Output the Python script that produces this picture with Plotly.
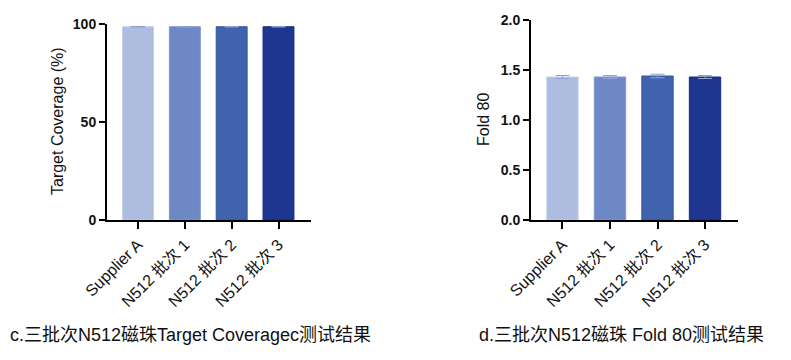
import plotly.graph_objects as go

categories = ["Supplier A", "N512 批次 1", "N512 批次 2", "N512 批次 3"]
coverage_values = [98.6, 98.6, 98.6, 98.6]
coverage_errors = [0.15, 0.15, 0.15, 0.15]
fold80_values = [1.43, 1.43, 1.44, 1.43]
fold80_errors = [0.015, 0.015, 0.018, 0.015]
bar_colors = ["#AEBCE0", "#6E88C6", "#4162AC", "#1E3690"]
line_colors = ["#C3CEEA", "#7D95CE", "#3556A6", "#142C88"]
caption_left = "c.三批次N512磁珠Target Coveragec测试结果"
caption_right = "d.三批次N512磁珠 Fold 80测试结果"

W, H = 791, 360
OFF = 8  # page body margin offset
pos = list(range(len(categories)))

def px(x):
    return (x - OFF) / W

def py(y):
    return 1 - (y - OFF) / H

fig = go.Figure()
fig.add_trace(go.Bar(
    x=pos, y=coverage_values, width=0.66,
    marker=dict(color=bar_colors, line=dict(color=line_colors, width=1)),
    error_y=dict(type="data", array=coverage_errors, color="#8EA2D6", thickness=1, width=7),
    xaxis="x", yaxis="y", showlegend=False,
))
fig.add_trace(go.Bar(
    x=pos, y=fold80_values, width=0.66,
    marker=dict(color=bar_colors, line=dict(color=line_colors, width=1)),
    error_y=dict(type="data", array=fold80_errors, color="#8EA2D6", thickness=1, width=7),
    xaxis="x2", yaxis="y2", showlegend=False,
))

LAT = "Arial, Liberation Sans, sans-serif"
MIX = "Arial, Liberation Sans, Noto Sans CJK SC"
tickfont_x = dict(family=MIX, size=16, color="#111")
tickfont_y = dict(family=LAT, size=14, color="#111", weight="bold")

def xax(domain, anchor):
    return dict(domain=domain, anchor=anchor, range=[-0.662, 3.694], automargin=False,
                tickvals=pos, ticktext=categories, tickangle=-45,
                showline=True, linecolor="black", linewidth=2,
                ticks="outside", ticklen=7, tickwidth=2, tickcolor="black",
                showgrid=False, zeroline=False, tickfont=tickfont_x, fixedrange=True)

def yax(domain, anchor, rng, dtick, fmt):
    return dict(domain=domain, anchor=anchor, range=rng, dtick=dtick, tickformat=fmt,
                automargin=False,
                showline=True, linecolor="black", linewidth=2,
                ticks="outside", ticklen=6, tickwidth=2, tickcolor="black",
                showgrid=False, zeroline=False, tickfont=tickfont_y, fixedrange=True)

fig.update_layout(
    width=W, height=H,
    margin=dict(l=0, r=0, t=0, b=0, autoexpand=False),
    paper_bgcolor="white", plot_bgcolor="white",
    xaxis=xax([px(107), px(311)], "y"),
    yaxis=yax([py(220), py(24)], "x", [0, 100], 50, "d"),
    xaxis2=xax([px(531), px(738)], "y2"),
    yaxis2=yax([py(220), py(20)], "x2", [0, 2.0], 0.5, ".1f"),
    annotations=[
        dict(text="Target Coverage (%)", textangle=-90, x=px(57), y=py(121),
             xanchor="center", yanchor="middle",
             xref="paper", yref="paper", showarrow=False,
             font=dict(family=LAT, size=16, color="#111")),
        dict(text="Fold 80", textangle=-90, x=px(483), y=py(120),
             xanchor="center", yanchor="middle",
             xref="paper", yref="paper", showarrow=False,
             font=dict(family=LAT, size=16, color="#111")),
        dict(text=caption_left, x=px(8), y=py(335), xanchor="left", yanchor="middle",
             xref="paper", yref="paper", showarrow=False,
             font=dict(family=MIX, size=18, color="#111")),
        dict(text=caption_right, x=px(477), y=py(335), xanchor="left", yanchor="middle",
             xref="paper", yref="paper", showarrow=False,
             font=dict(family=MIX, size=18, color="#111")),
    ],
)

fig.write_html("out.html")
